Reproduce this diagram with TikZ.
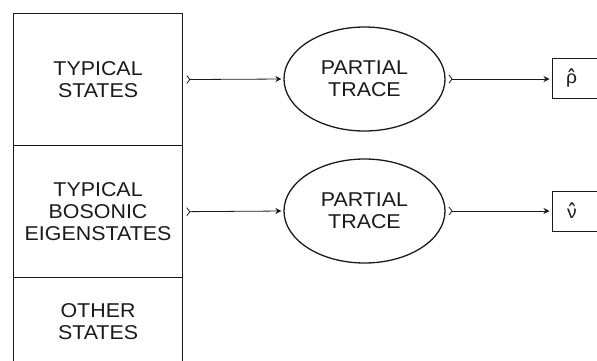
\documentclass[tikz,border=0pt]{standalone}
\usepackage{fontspec}
\setmainfont{Liberation Sans}[FakeStretch=1.07]
\usetikzlibrary{shapes.geometric,arrows.meta}
% Greek letter with a circumflex set above it
\newcommand\hatted[1]{\ooalign{#1\cr\hidewidth\raisebox{-0.26em}{\scalebox{1}[1.5]{\char"02C6}}\hidewidth\cr}}
\definecolor{ink}{HTML}{1A1A1A}
\begin{document}
\begin{tikzpicture}[x=1pt,y=-1pt,
  cell/.style={draw=ink, line width=1.4pt, rectangle, anchor=north west,
    minimum width=169.3pt, inner sep=0pt, align=center, text=ink,
    font=\fontsize{20}{22}\selectfont},
  proc/.style={draw=ink, line width=1.3pt, ellipse, minimum width=161pt,
    minimum height=104pt, inner sep=0pt, align=center, text=ink,
    font=\fontsize{20}{22}\selectfont},
  result/.style={draw=ink, line width=1.3pt, rectangle, anchor=west,
    minimum height=40pt, minimum width=70pt, inner sep=0pt},
  symb/.style={anchor=base, inner sep=0pt, text=ink,
    font=\fontsize{18}{20}\selectfont},
  flow/.style={draw=ink, line width=0.8pt,
    {Straight Barb[reversed,length=3pt,width=8pt]}-{Stealth[length=6pt,width=6pt]},
    shorten <=3pt, shorten >=2pt}]
\useasboundingbox (0,0) rectangle (597,360);
\clip (0,0) rectangle (597,360);

% column of state classes
\node[cell, minimum height=132.3pt] (typ) at (12.7,12.7) {TYPICAL\\STATES};
\node[cell, minimum height=132pt] (bos) at (12.7,145) {TYPICAL\\BOSONIC\\EIGENSTATES};
\node[cell, minimum height=87pt] (oth) at (12.7,277) {OTHER\\STATES};

% partial traces
\node[proc] (pt1) at (364.5,79) {PARTIAL\\TRACE};
\node[proc] (pt2) at (364.5,211) {PARTIAL\\TRACE};

% reduced states
\node[result] (rho) at (551.5,78.5) {};
\node[result] (nu) at (551.5,211.5) {};
\node[symb] (rhosym) at (571.5,83.5) {\hatted{ρ}};
\node[symb] (nusym) at (572,218) {\hatted{ν}};

% connectors
\draw[flow] (typ.east) -- (pt1.west);
\draw[flow] (bos.east) -- (pt2.west);
\draw[flow] (pt1.east) -- (pt1.east -| rho.west);
\draw[flow] (pt2.east) -- (pt2.east -| nu.west);
\end{tikzpicture}
\end{document}
